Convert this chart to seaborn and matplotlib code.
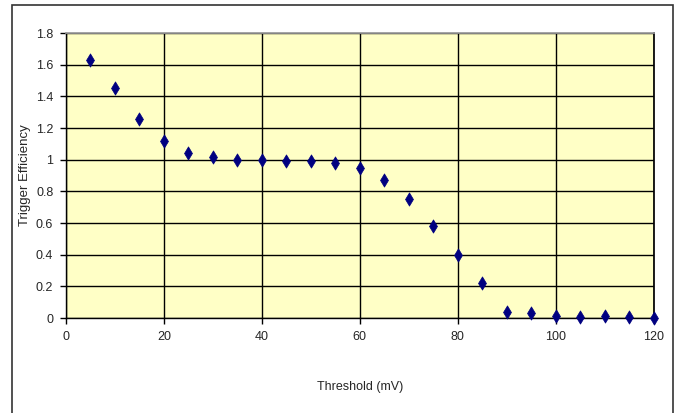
import pandas as pd
import matplotlib
matplotlib.use("Agg")
import matplotlib.pyplot as plt
import matplotlib.patches as mpatches
import seaborn as sns

sns.set_theme(style="white")
plt.rcParams['font.family'] = ['Liberation Sans', 'DejaVu Sans']

threshold = [5, 10, 15, 20, 25, 30, 35, 40, 45, 50, 55, 60,
             65, 70, 75, 80, 85, 90, 95, 100, 105, 110, 115, 120]
efficiency = [1.63, 1.45, 1.26, 1.12, 1.04, 1.02, 1.0, 1.0, 0.99, 0.99, 0.98, 0.95,
              0.87, 0.75, 0.58, 0.40, 0.22, 0.04, 0.03, 0.015, 0.005, 0.01, 0.005, 0.003]

df = pd.DataFrame({'Threshold': threshold, 'Efficiency': efficiency})

fig = plt.figure(figsize=(6.79, 4.13), dpi=100)
ax = fig.add_axes([0.097, 0.23, 0.866, 0.69])
ax.set_facecolor('#FFFFC6')

sns.scatterplot(data=df, x='Threshold', y='Efficiency', marker='d', s=45,
                color='#000080', edgecolor='#000080', ax=ax, zorder=3, clip_on=False)

ax.set_xlim(0, 120)
ax.set_ylim(0, 1.8)
ax.set_xticks(range(0, 121, 20))
ax.set_yticks([i * 0.2 for i in range(10)])
ax.set_yticklabels(['0', '0.2', '0.4', '0.6', '0.8', '1', '1.2', '1.4', '1.6', '1.8'])
ax.grid(True, color='black', linewidth=1)
ax.set_axisbelow(True)
ax.tick_params(axis='both', direction='out', length=4, width=1, color='black',
               labelsize=9, pad=5, left=True, bottom=True)
for side in ['left', 'bottom']:
    ax.spines[side].set_color('black')
    ax.spines[side].set_linewidth(1)
ax.spines['top'].set_color('#999999')
ax.spines['right'].set_color('black')
ax.set_xlabel('Threshold (mV)', fontsize=9)
ax.set_ylabel('Trigger Efficiency', fontsize=9.5)
ax.xaxis.set_label_coords(0.5, -0.22)
ax.yaxis.set_label_coords(-0.06, 0.5)

fig.patches.append(mpatches.Rectangle((0.018, -0.01), 0.973, 0.998, transform=fig.transFigure,
                                      fill=False, edgecolor='#333333', linewidth=1.2))

fig.savefig('out.png', dpi=100)
